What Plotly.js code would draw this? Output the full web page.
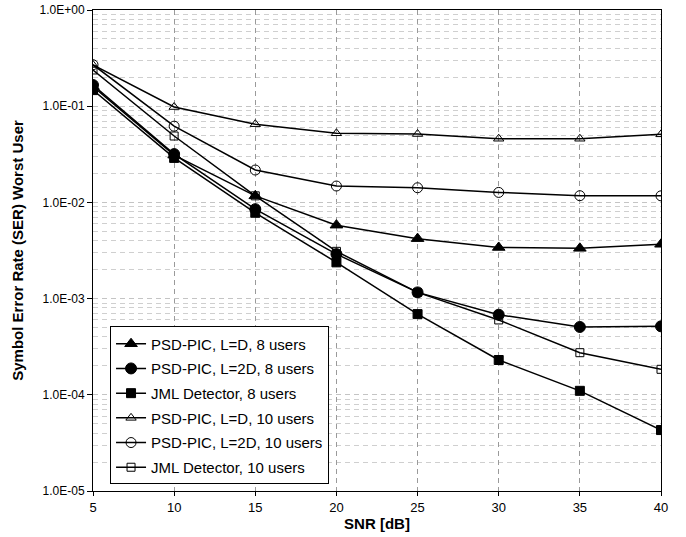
<!DOCTYPE html>
<html>
<head>
<meta charset="utf-8">
<script src="https://cdn.plot.ly/plotly-3.0.1.min.js"></script>
<style>html,body{margin:0;padding:0;background:#fff;}#chart{width:686px;height:537px;}</style>
</head>
<body>
<div id="chart"></div>
<script>
const snr = [5, 10, 15, 20, 25, 30, 35, 40];
const psdD8 = [0.160, 0.031, 0.0117, 0.0058, 0.0042, 0.0034, 0.00333, 0.00367];
const psd2D8 = [0.166, 0.0318, 0.0085, 0.0029, 0.00116, 0.00068, 0.000507, 0.000515];
const jml8 = [0.147, 0.029, 0.0078, 0.00238, 0.00069, 0.00023, 0.00011, 0.000043];
const psdD10 = [0.268, 0.098, 0.065, 0.0523, 0.0514, 0.0459, 0.0459, 0.051];
const psd2D10 = [0.27, 0.062, 0.0217, 0.0148, 0.0142, 0.0127, 0.01174, 0.0117];
const jml10 = [0.238, 0.049, 0.0117, 0.0031, 0.00116, 0.0006, 0.000274, 0.000184];
const names = ["PSD-PIC, L=D, 8 users", "PSD-PIC, L=2D, 8 users", "JML Detector, 8 users",
               "PSD-PIC, L=D, 10 users", "PSD-PIC, L=2D, 10 users", "JML Detector, 10 users"];
const yTickVals = [1e-5, 1e-4, 1e-3, 1e-2, 1e-1, 1];
const yTickText = ["1.0E-05", "1.0E-04", "1.0E-03", "1.0E-02", "1.0E-01", "1.0E+00"];
const xTickVals = [5, 10, 15, 20, 25, 30, 35, 40];

const series = [psdD8, psd2D8, jml8, psdD10, psd2D10, jml10];
const symbols = ["triangle-up", "circle", "square", "triangle-up-open", "circle-open", "square-open"];
const sizes = [11, 11, 9, 9, 10, 8];

const traces = series.map((ys, i) => ({
  x: snr, y: ys, name: names[i], legendgroup: "g" + i, type: "scatter", mode: "lines+markers",
  line: {color: "#000", width: 1.5},
  marker: {symbol: symbols[i], size: sizes[i], color: "#000", line: {color: "#000", width: 1}}
}));

const minorVals = [];
for (let e = -5; e < 0; e++) for (let k = 2; k <= 9; k++) minorVals.push(k * Math.pow(10, e));

const font = "Liberation Sans, Arial, sans-serif";
const layout = {
  width: 686, height: 537,
  margin: {l: 93, r: 25, t: 10, b: 46},
  paper_bgcolor: "#fff", plot_bgcolor: "#fff",
  showlegend: true,
  font: {family: font, color: "#000", size: 13},
  xaxis: {
    range: [5, 40], tickmode: "array", tickvals: xTickVals,
    showline: true, linecolor: "#000", linewidth: 1, mirror: true,
    ticks: "outside", ticklen: 4, tickcolor: "#000",
    showgrid: true, gridcolor: "#9a9a9a", griddash: "5px,4px", gridwidth: 1,
    zeroline: false,
    tickfont: {size: 13, family: font},
    title: {text: "<b>SNR [dB]</b>", font: {size: 15, family: font}, standoff: 4}
  },
  yaxis: {
    type: "log", range: [-5, 0], tickmode: "array", tickvals: yTickVals, ticktext: yTickText,
    showline: true, linecolor: "#000", linewidth: 1, mirror: true,
    ticks: "outside", ticklen: 5, tickcolor: "#000",
    showgrid: true, gridcolor: "#c4c4c4", griddash: "5px,4px", gridwidth: 1,
    zeroline: false,
    tickfont: {size: 12, family: font},
    minor: {tickmode: "array", tickvals: minorVals, showgrid: true, gridcolor: "#cfcfcf", griddash: "5px,4px", gridwidth: 1, ticks: ""},
    title: {text: "<b>Symbol Error Rate (SER) Worst User</b>", font: {size: 15, family: font}, standoff: 12}
  },
  legend: {
    x: 0.03, y: 0.342, xanchor: "left", yanchor: "top",
    bgcolor: "#fff", bordercolor: "#000", borderwidth: 1,
    font: {size: 15, family: font, color: "#000"},
    tracegroupgap: 2.2
  }
};

Plotly.newPlot("chart", traces, layout, {displayModeBar: false, staticPlot: true});
</script>
</body>
</html>
